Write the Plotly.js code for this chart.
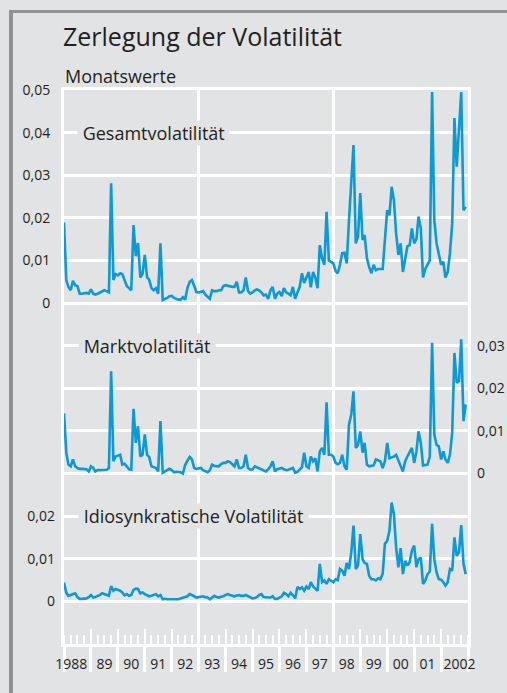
<!DOCTYPE html>
<html><head><meta charset="utf-8">
<script src="https://cdn.plot.ly/plotly-3.0.1.min.js"></script>
<style>
html,body{margin:0;padding:0;background:#e2e3e5;width:507px;height:693px;overflow:hidden}
#frame{position:absolute;left:9px;top:10px;right:0;bottom:0;border-top:3px solid #919191;border-left:4px solid #919191}
#chart{position:absolute;left:0;top:0;width:507px;height:693px}
</style></head><body>
<div id="frame"></div><div id="chart"></div>
<script>
// Years covered (monthly data, Jan 1988 - Dec 2002)
const years = [1988,1989,1990,1991,1992,1993,1994,1995,1996,1997,1998,1999,2000,2001,2002];
const yearLabels = ['1988','89','90','91','92','93','94','95','96','97','98','99','00','01','2002'];

// Gesamtvolatilität (monthly)
const gesamt = [
 0.0189,0.0054,0.0038,0.0030,0.0052,0.0042,0.0040,0.0022,0.0022,0.0023,0.0024,0.0022,
 0.0032,0.0022,0.0020,0.0022,0.0025,0.0027,0.0030,0.0028,0.0025,0.0281,0.0054,0.0068,
 0.0065,0.0070,0.0068,0.0054,0.0040,0.0035,0.0030,0.0183,0.0110,0.0141,0.0060,0.0068,
 0.0113,0.0060,0.0055,0.0035,0.0030,0.0035,0.0022,0.0140,0.0007,0.0010,0.0012,0.0016,
 0.0017,0.0012,0.0010,0.0008,0.0008,0.0014,0.0008,0.0035,0.0050,0.0054,0.0040,0.0026,
 0.0025,0.0026,0.0028,0.0020,0.0014,0.0010,0.0030,0.0028,0.0028,0.0030,0.0030,0.0040,
 0.0042,0.0040,0.0040,0.0038,0.0038,0.0050,0.0025,0.0025,0.0030,0.0060,0.0028,0.0022,
 0.0025,0.0030,0.0032,0.0030,0.0025,0.0018,0.0020,0.0010,0.0030,0.0038,0.0010,0.0022,
 0.0026,0.0016,0.0035,0.0025,0.0022,0.0018,0.0038,0.0010,0.0025,0.0038,0.0070,0.0047,
 0.0060,0.0073,0.0037,0.0073,0.0060,0.0035,0.0136,0.0105,0.0090,0.0214,0.0100,0.0097,
 0.0093,0.0075,0.0070,0.0090,0.0117,0.0118,0.0093,0.0195,0.0280,0.0371,0.0140,0.0156,
 0.0258,0.0148,0.0160,0.0105,0.0085,0.0070,0.0090,0.0077,0.0080,0.0080,0.0080,0.0148,
 0.0218,0.0206,0.0273,0.0242,0.0164,0.0113,0.0140,0.0073,0.0105,0.0133,0.0136,0.0175,
 0.0140,0.0150,0.0203,0.0175,0.0060,0.0080,0.0090,0.0100,0.0495,0.0195,0.0140,0.0117,
 0.0090,0.0097,0.0060,0.0073,0.0117,0.0187,0.0434,0.0320,0.0402,0.0495,0.0218,0.0226
];

// Marktvolatilität (monthly)
const markt = [
 0.0141,0.0049,0.0021,0.0017,0.0033,0.0017,0.0013,0.0011,0.0011,0.0011,0.0010,0.0005,
 0.0017,0.0013,0.0005,0.0008,0.0008,0.0008,0.0008,0.0009,0.0013,0.0240,0.0029,0.0040,
 0.0042,0.0044,0.0021,0.0023,0.0017,0.0010,0.0009,0.0152,0.0072,0.0111,0.0040,0.0044,
 0.0092,0.0044,0.0039,0.0017,0.0015,0.0013,0.0005,0.0123,0.0002,0.0005,0.0008,0.0011,
 0.0008,0.0003,0.0004,0.0003,0.0003,0.0000,0.0020,0.0030,0.0039,0.0033,0.0013,0.0011,
 0.0012,0.0013,0.0008,0.0006,0.0003,0.0008,0.0021,0.0018,0.0017,0.0017,0.0022,0.0025,
 0.0025,0.0029,0.0027,0.0021,0.0017,0.0033,0.0013,0.0013,0.0017,0.0044,0.0013,0.0009,
 0.0010,0.0017,0.0015,0.0012,0.0009,0.0008,0.0005,0.0010,0.0017,0.0029,0.0005,0.0010,
 0.0011,0.0013,0.0010,0.0008,0.0009,0.0011,0.0013,0.0002,0.0004,0.0009,0.0015,0.0049,
 0.0017,0.0013,0.0040,0.0029,0.0036,0.0005,0.0052,0.0060,0.0044,0.0167,0.0044,0.0044,
 0.0040,0.0025,0.0022,0.0025,0.0044,0.0017,0.0009,0.0115,0.0139,0.0193,0.0060,0.0067,
 0.0099,0.0049,0.0072,0.0021,0.0017,0.0018,0.0019,0.0033,0.0030,0.0029,0.0013,0.0029,
 0.0072,0.0036,0.0038,0.0040,0.0044,0.0029,0.0018,0.0005,0.0029,0.0040,0.0050,0.0060,
 0.0025,0.0052,0.0099,0.0072,0.0019,0.0020,0.0021,0.0040,0.0307,0.0092,0.0067,0.0064,
 0.0033,0.0052,0.0033,0.0025,0.0044,0.0096,0.0283,0.0213,0.0217,0.0315,0.0123,0.0162
];

// Idiosynkratische Volatilität (monthly)
const idio = [
 0.0044,0.0020,0.0013,0.0015,0.0017,0.0019,0.0010,0.0006,0.0006,0.0007,0.0007,0.0010,
 0.0015,0.0009,0.0010,0.0013,0.0015,0.0019,0.0017,0.0015,0.0013,0.0036,0.0025,0.0029,
 0.0027,0.0025,0.0021,0.0014,0.0017,0.0013,0.0015,0.0027,0.0030,0.0029,0.0019,0.0021,
 0.0017,0.0015,0.0012,0.0013,0.0015,0.0017,0.0012,0.0015,0.0005,0.0006,0.0005,0.0005,
 0.0005,0.0006,0.0005,0.0005,0.0007,0.0009,0.0010,0.0012,0.0017,0.0015,0.0012,0.0009,
 0.0010,0.0011,0.0012,0.0010,0.0009,0.0005,0.0008,0.0013,0.0010,0.0009,0.0011,0.0012,
 0.0015,0.0017,0.0015,0.0013,0.0012,0.0014,0.0015,0.0013,0.0013,0.0015,0.0012,0.0010,
 0.0007,0.0008,0.0010,0.0015,0.0017,0.0010,0.0009,0.0009,0.0009,0.0012,0.0006,0.0006,
 0.0009,0.0012,0.0020,0.0017,0.0012,0.0020,0.0015,0.0007,0.0034,0.0029,0.0033,0.0025,
 0.0035,0.0029,0.0045,0.0035,0.0030,0.0025,0.0088,0.0045,0.0049,0.0041,0.0052,0.0049,
 0.0045,0.0052,0.0050,0.0076,0.0072,0.0060,0.0090,0.0076,0.0115,0.0178,0.0076,0.0084,
 0.0158,0.0099,0.0090,0.0088,0.0060,0.0052,0.0052,0.0049,0.0054,0.0052,0.0065,0.0135,
 0.0142,0.0166,0.0232,0.0205,0.0127,0.0080,0.0125,0.0064,0.0095,0.0084,0.0092,0.0119,
 0.0131,0.0080,0.0099,0.0103,0.0041,0.0049,0.0064,0.0070,0.0182,0.0099,0.0068,0.0052,
 0.0051,0.0045,0.0037,0.0045,0.0076,0.0072,0.0150,0.0107,0.0115,0.0179,0.0088,0.0064
];

// Tick labels
const topTicks = [0,0.01,0.02,0.03,0.04,0.05];
const topTickText = ['0','0,01','0,02','0,03','0,04','0,05'];
const midTicks = [0,0.01,0.02,0.03];
const midTickText = ['0','0,01','0,02','0,03'];
const botTicks = [0,0.01,0.02];
const botTickText = ['0','0,01','0,02'];

const seriesNames = ['Gesamtvolatilität','Marktvolatilität','Idiosynkratische Volatilität'];
const titleText = 'Zerlegung der Volatilität';
const subText = 'Monatswerte';

// ---------- build ----------
const months = [];
years.forEach(y => { for (let m = 1; m <= 12; m++) months.push(y + '-' + String(m).padStart(2,'0') + '-01'); });
const xr = [years[0] + '-01-01', (years[years.length-1] + 1) + '-01-01'];
// slightly trimmed range: drops the yearly separator ticks that would sit on the frame edges
const xrInner = [years[0] + '-01-01 00:00:01', years[years.length-1] + '-12-31 23:59:59'];
const labelPos = years.map((y,k) => k === 0 ? y + '-04-10' : (k === years.length-1 ? y + '-09-07' : y + '-07-02'));

// gridlines every 0.01 across the whole stacked frame; only the top panel's ticks are labelled
const gridVals = [], gridText = [];
for (let k = -8; k <= 5; k++) { gridVals.push(k / 100); gridText.push(k < 0 ? '' : topTickText[k]); }

const FONT = "'Open Sans', sans-serif";
const TXT = '#231f20';
const BG = '#e2e3e5';
const BLUE = '#0b9ad6';
const W = '#ffffff';

const line = {color: BLUE, width: 2.6};
const traces = [
  {x: months, y: gesamt, xaxis: 'x', yaxis: 'y', mode: 'lines', line: line, name: seriesNames[0], hoverinfo: 'skip'},
  {x: months, y: markt, xaxis: 'x2', yaxis: 'y2', mode: 'lines', line: line, name: seriesNames[1], hoverinfo: 'skip'},
  {x: months, y: idio, xaxis: 'x3', yaxis: 'y3', mode: 'lines', line: line, name: seriesNames[2], hoverinfo: 'skip'}
];

const lblAxis = (extra) => Object.assign({
  visible: true, showgrid: false, zeroline: false, ticks: '', fixedrange: true,
  tickfont: {size: 14, color: TXT}, ticklabelstandoff: 8
}, extra);

const layout = {
  width: 507, height: 693,
  margin: {l: 64, r: 39, t: 90, b: 49, pad: 0},
  paper_bgcolor: 'rgba(0,0,0,0)', plot_bgcolor: 'rgba(0,0,0,0)',
  showlegend: false,
  font: {family: FONT, color: TXT, size: 14},
  title: {text: titleText, x: 63/507, xanchor: 'left', xref: 'container',
          y: 1 - 37/693, yref: 'container', yanchor: 'middle', font: {size: 25, color: TXT, family: FONT}},
  // data axis: 5-year vertical gridlines, year ticks inside
  xaxis: {visible: true, type: 'date', range: xr, tickmode: 'linear', tick0: xr[0], dtick: 'M60',
          showgrid: true, gridcolor: W, gridwidth: 3,
          ticks: 'inside', ticklen: 15, tickwidth: 2, tickcolor: W, showticklabels: false,
          minor: {tickmode: 'linear', tick0: xr[0], dtick: 'M12', ticks: 'inside', ticklen: 15, tickwidth: 2, tickcolor: W, showgrid: false},
          zeroline: false, showline: true, linecolor: W, linewidth: 3, mirror: true, fixedrange: true},
  // year separators below the axis, quarter ticks above
  xaxis2: {visible: true, type: 'date', overlaying: 'x', anchor: 'y', range: xrInner, tickmode: 'linear', tick0: xr[0], dtick: 'M12',
           ticks: 'outside', ticklen: 27, tickwidth: 3, tickcolor: W, showticklabels: false, showgrid: false, zeroline: false,
           minor: {tickmode: 'linear', tick0: xr[0], dtick: 'M3', ticks: 'inside', ticklen: 9, tickwidth: 2, tickcolor: W, showgrid: false},
           fixedrange: true},
  // year labels
  xaxis3: {visible: true, type: 'date', overlaying: 'x', anchor: 'y', range: xr, tickmode: 'array',
           tickvals: labelPos, ticktext: yearLabels, ticks: '', showgrid: false, zeroline: false,
           tickfont: {size: 14, color: TXT}, ticklabelstandoff: 10, fixedrange: true},
  yaxis: {visible: true, range: [-0.08, 0.05], tickmode: 'array', tickvals: gridVals, ticktext: gridText,
          showgrid: true, gridcolor: W, gridwidth: 3, ticks: '', ticklabelstandoff: 8,
          tickfont: {size: 14, color: TXT},
          zeroline: false, showline: true, linecolor: W, linewidth: 3, mirror: true, fixedrange: true},
  yaxis2: lblAxis({overlaying: 'y', side: 'right', anchor: 'x', range: [-0.04, 0.09], tickmode: 'array', tickvals: midTicks, ticktext: midTickText}),
  yaxis3: lblAxis({overlaying: 'y', side: 'left', anchor: 'x', range: [-0.01, 0.12], tickmode: 'array', tickvals: botTicks, ticktext: botTickText}),
  annotations: [
    {text: subText, xref: 'paper', x: -1/404, xanchor: 'left', yref: 'paper', y: 1 + 14/554, yanchor: 'middle',
     showarrow: false, font: {size: 18, color: TXT}},
    {text: '\u00a0' + seriesNames[0] + '\u00a0', xref: 'paper', x: 13/404, xanchor: 'left', yref: 'y', y: topTicks[4], yanchor: 'middle',
     showarrow: false, bgcolor: BG, borderpad: 0, font: {size: 18, color: TXT}},
    {text: '\u00a0' + seriesNames[1] + '\u00a0', xref: 'paper', x: 14/404, xanchor: 'left', yref: 'y2', y: midTicks[3], yanchor: 'middle',
     showarrow: false, bgcolor: BG, borderpad: 0, font: {size: 18, color: TXT}},
    {text: '\u00a0' + seriesNames[2] + '\u00a0', xref: 'paper', x: 14/404, xanchor: 'left', yref: 'y3', y: botTicks[2], yanchor: 'middle',
     showarrow: false, bgcolor: BG, borderpad: 0, font: {size: 18, color: TXT}}
  ]
};

Plotly.newPlot('chart', traces, layout, {staticPlot: true, displayModeBar: false});
</script>
</body></html>
